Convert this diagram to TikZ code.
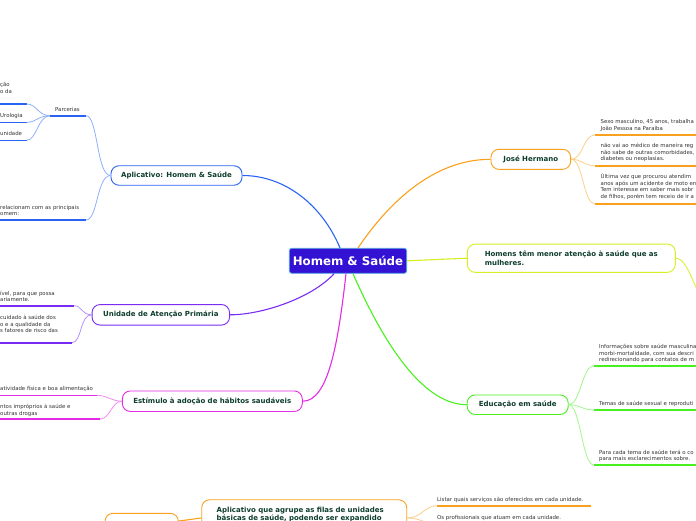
\documentclass[tikz,border=0pt]{standalone}
\usepackage{fontspec}
\setmainfont{DejaVu Sans}
\definecolor{cblue}{HTML}{2B63F3}
\definecolor{lblue}{HTML}{8FAEF9}
\definecolor{cpurp}{HTML}{7A2CF5}
\definecolor{lpurp}{HTML}{B791FA}
\definecolor{cmag}{HTML}{E62BE6}
\definecolor{lmag}{HTML}{F38BF3}
\definecolor{corg}{HTML}{F9A11E}
\definecolor{lorg}{HTML}{FCCF8C}
\definecolor{cyel}{HTML}{D5EF22}
\definecolor{cgrn}{HTML}{48F01F}
\definecolor{lgrn}{HTML}{A0F78B}
\definecolor{cfill}{HTML}{3312D3}
\definecolor{cbord}{HTML}{4FA4E0}
\definecolor{tg}{HTML}{0E3D2F}
\definecolor{tx}{HTML}{333333}
\begin{document}
\begin{tikzpicture}[x=1pt,y=-1pt]
\tikzset{
  topic/.style={draw, line width=0.9pt, rounded corners=8pt, fill=white, text=tg,
    font=\bfseries\fontsize{7}{8.4}\selectfont, inner sep=0pt},
  sub/.style={anchor=north west, inner sep=0pt, text=tx, align=left,
    font=\fontsize{5.4}{6.6}\selectfont},
  ul/.style={line width=1.6pt},
  con/.style={line width=0.8pt},
  maincon/.style={line width=1.1pt},
}
\useasboundingbox (0,0) rectangle (696,520);
\begin{scope}
\clip (0,0) rectangle (696,520);

% ---------- central node ----------
\node[draw=cbord, fill=cfill, text=white, rounded corners=2.5pt, line width=0.8pt,
  font=\bfseries\fontsize{11.8}{13}\selectfont, minimum width=117.4pt, minimum height=25pt,
  inner sep=0pt] (hs) at (348,260.8) {Homem \& Saúde};

% ---------- main topics ----------
\node[topic, draw=cblue, minimum width=131pt, minimum height=19.5pt] (apl) at (176.5,175.5) {Aplicativo: Homem \& Saúde};
\node[topic, draw=cpurp, minimum width=137.5pt, minimum height=20.5pt] (uap) at (160.8,314.8) {Unidade de Atenção Primária};
\node[topic, draw=cmag, minimum width=180pt, minimum height=20.5pt] (est) at (212.3,401.2) {Estímulo à adoção de hábitos saudáveis};
\node[topic, draw=corg, minimum width=79.7pt, minimum height=20pt] (jh) at (530.8,159.3) {José Hermano};
\node[topic, draw=cyel, minimum width=208pt, minimum height=28.3pt, align=left] (hom) at (571.3,258.2) {Homens têm menor atenção à saúde que as\\mulheres.};
\node[topic, draw=cgrn, minimum width=101pt, minimum height=19.5pt] (edu) at (517.7,404.7) {Educação em saúde};
\node[topic, draw=corg, text width=175pt, align=left, anchor=north, inner xsep=15pt, inner ysep=7.2pt] (agr) at (304.2,499.3) {Aplicativo que agrupe as filas de unidades\\básicas de saúde, podendo ser expandido\\~};
\node[topic, draw=corg, minimum width=73.3pt, minimum height=15.4pt] (sm) at (141.7,521) {};

% ---------- connectors from center ----------
\draw[maincon, cblue] ([xshift=-8pt]hs.north) .. controls (322,205) and (285,175.5) .. (apl.east);
\draw[maincon, corg] ([xshift=10pt]hs.north) .. controls (385,208) and (430,159.3) .. (jh.west);
\draw[maincon, cyel] (hs.east) -- (hom.west);
\draw[maincon, cpurp] ([xshift=-14pt]hs.south) .. controls (312,298) and (262,314.8) .. (uap.east);
\draw[maincon, cmag] ([xshift=-2pt]hs.south) .. controls (338,345) and (328,401.2) .. (est.east);
\draw[maincon, cgrn] ([xshift=5pt]hs.south) .. controls (380,335) and (420,404.7) .. (edu.west);
\draw[maincon, corg] (sm.east) -- (agr.west);

% ---------- Aplicativo: Homem & Saude children ----------
\coordinate (parL) at (50,115.7);  \coordinate (parR) at (86,115.7);
\coordinate (a1L) at (0,104);      \coordinate (a1R) at (26.7,104);
\coordinate (a2L) at (0,122.3);    \coordinate (a2R) at (26.7,122.3);
\coordinate (a3L) at (0,140.3);    \coordinate (a3R) at (26.7,140.3);
\coordinate (a4L) at (0,220);      \coordinate (a4R) at (86,220);
\draw[ul, cblue] (parL) -- (parR);
\draw[ul, cblue] (a1L) -- (a1R);
\draw[ul, cblue] (a2L) -- (a2R);
\draw[ul, cblue] (a3L) -- (a3R);
\draw[ul, cblue] (a4L) -- (a4R);
\draw[con, lblue] (apl.west) .. controls +(-14,0) and +(12,0) .. (parR);
\draw[con, lblue] (apl.west) .. controls +(-14,0) and +(12,0) .. (a4R);
\draw[con, lblue] (parL) .. controls +(-12,0) and +(10,0) .. (a1R);
\draw[con, lblue] (parL) .. controls +(-12,0) and +(10,0) .. (a2R);
\draw[con, lblue] (parL) .. controls +(-12,0) and +(10,0) .. (a3R);
\node[sub] (tpar) at (55,107.4) {Parcerias};
\node[sub] (ta1) at (0,82.4) {ção\\o da};
\node[sub] (ta2) at (0,113.4) {Urologia};
\node[sub] (ta3) at (0,131.4) {unidade};
\node[sub] (ta4) at (0,204.7) {relacionam com as principais\\omem:};

% ---------- Unidade de Atencao Primaria children ----------
\coordinate (p1L) at (0,305.7);  \coordinate (p1R) at (74,305.7);
\coordinate (p2L) at (0,342.7);  \coordinate (p2R) at (72,342.7);
\draw[ul, cpurp] (p1L) -- (p1R);
\draw[ul, cpurp] (p2L) -- (p2R);
\draw[con, lpurp] (uap.west) .. controls +(-10,0) and +(8,0) .. (p1R);
\draw[con, lpurp] (uap.west) .. controls +(-12,0) and +(10,0) .. (p2R);
\node[sub] (tp1) at (0,290.7) {ível, para que possa\\ariamente.};
\node[sub] (tp2) at (0,315.1) {cuidado à saúde dos\\o e a qualidade da\\s fatores de risco das};

% ---------- Estimulo children ----------
\coordinate (m1L) at (0,395.3);  \coordinate (m1R) at (97,395.3);
\coordinate (m2L) at (0,419);    \coordinate (m2R) at (100,419);
\draw[ul, cmag] (m1L) -- (m1R);
\draw[ul, cmag] (m2L) -- (m2R);
\draw[con, lmag] (est.west) .. controls +(-10,0) and +(10,0) .. (m1R);
\draw[con, lmag] (est.west) .. controls +(-10,0) and +(10,0) .. (m2R);
\node[sub] (tm1) at (0,385.7) {atividade física e boa alimentação};
\node[sub] (tm2) at (0,404.1) {ntos impróprios à saúde e\\outras drogas};

% ---------- Jose Hermano children ----------
\coordinate (j1L) at (595,135);    \coordinate (j1R) at (700,135);
\coordinate (j2L) at (595,165.7);  \coordinate (j2R) at (700,165.7);
\coordinate (j3L) at (595,203.7);  \coordinate (j3R) at (700,203.7);
\draw[ul, corg] (j1L) -- (j1R);
\draw[ul, corg] (j2L) -- (j2R);
\draw[ul, corg] (j3L) -- (j3R);
\draw[con, lorg] (jh.east) .. controls +(12,0) and +(-12,0) .. (j1L);
\draw[con, lorg] (jh.east) .. controls +(12,0) and +(-12,0) .. (j2L);
\draw[con, lorg] (jh.east) .. controls +(12,0) and +(-12,0) .. (j3L);
\node[sub] (tj1) at (600.5,119.1) {Sexo masculino, 45 anos, trabalha\\João Pessoa na Paraíba};
\node[sub] (tj2) at (600.5,143.1) {não vai ao médico de maneira reg\\não sabe de outras comorbidades,\\diabetes ou neoplasias.};
\node[sub] (tj3) at (600.5,173.4) {Última vez que procurou atendim\\anos após um acidente de moto en\\Tem interesse em saber mais sobr\\de filhos, porém tem receio de ir a};

% ---------- Homens child (leaving picture) ----------
\coordinate (hc) at (706,300);
\draw[con, cyel] (hom.east) .. controls +(14,0) and +(-10,0) .. (hc);

% ---------- Educacao children ----------
\coordinate (g1L) at (594,365.7);  \coordinate (g1R) at (700,365.7);
\coordinate (g2L) at (594,410);    \coordinate (g2R) at (700,410);
\coordinate (g3L) at (594,465);    \coordinate (g3R) at (700,465);
\draw[ul, cgrn] (g1L) -- (g1R);
\draw[ul, cgrn] (g2L) -- (g2R);
\draw[ul, cgrn] (g3L) -- (g3R);
\draw[con, lgrn] (edu.east) .. controls +(12,0) and +(-12,0) .. (g1L);
\draw[con, lgrn] (edu.east) .. controls +(12,0) and +(-12,0) .. (g2L);
\draw[con, lgrn] (edu.east) .. controls +(12,0) and +(-12,0) .. (g3L);
\node[sub] (tg1) at (599,344.1) {Informações sobre saúde masculina\\morbi-mortalidade, com sua descri\\redirecionando para contatos de m};
\node[sub] (tg2) at (599,401.4) {Temas de saúde sexual e reproduti};
\node[sub] (tg3) at (599,449.7) {Para cada tema de saúde terá o co\\para mais esclarecimentos sobre.};

% ---------- bottom children ----------
\coordinate (b1L) at (436.7,505.7);  \coordinate (b1R) at (590.7,505.7);
\coordinate (b2L) at (436.7,524);    \coordinate (b2R) at (590.7,524);
\draw[ul, corg] (b1L) -- (b1R);
\draw[ul, corg] (b2L) -- (b2R);
\draw[con, lorg] (agr.east) .. controls +(14,0) and +(-12,0) .. (b1L);
\draw[con, lorg] (agr.east) .. controls +(14,0) and +(-12,0) .. (b2L);
\node[sub] (tb1) at (437,497.4) {Listar quais serviços são oferecidos em cada unidade.};
\node[sub] (tb2) at (437,515.1) {Os profissionais que atuam em cada unidade.};
\end{scope}
\end{tikzpicture}
\end{document}
